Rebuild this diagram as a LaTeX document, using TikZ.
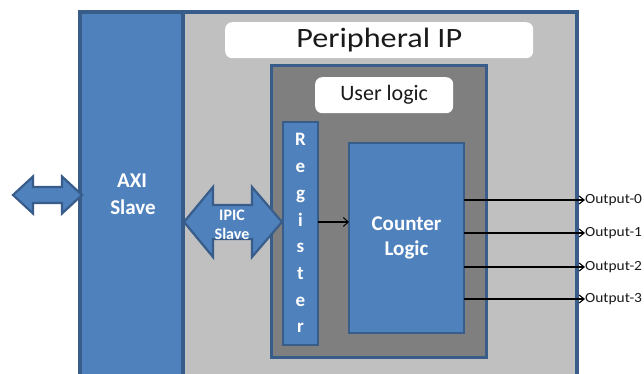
\documentclass[tikz,border=0pt]{standalone}
\usepackage{graphicx}
\usepackage{fontspec}
\setmainfont{Carlito}
\usetikzlibrary{arrows.meta}
\definecolor{blu}{HTML}{4F81BD}
\definecolor{bdr}{HTML}{385D8A}
\definecolor{lgray}{HTML}{C0C0C0}
\definecolor{dgray}{HTML}{7F7F7F}
\definecolor{ink}{HTML}{1A1A1A}
\begin{document}
\begin{tikzpicture}[x=1pt,y=-1pt,
  box/.style={draw=bdr,line width=3.2pt,anchor=north west,inner sep=0pt,outer sep=0pt},
  bluebox/.style={box,fill=blu},
  whitebox/.style={fill=white,rounded corners=7pt,anchor=north west,inner sep=0pt,text=ink},
  bigarrow/.style={fill=blu,draw=bdr,line width=2.2pt,line join=miter},
  wtext/.style={text=white,font=\bfseries,inner sep=0pt},
  reglet/.style={text=white,font=\fontsize{19}{22}\selectfont\bfseries,inner sep=0pt,anchor=base},
  outlbl/.style={anchor=west,inner sep=0pt,font=\fontsize{14}{16}\selectfont,text=ink},
  outline/.style={line width=1.4pt,-{Straight Barb[length=5pt,width=8pt,line width=1.1pt]}},
]
\clip (0,0) rectangle (644,374);
\fill[white] (0,0) rectangle (644,374);

% outer peripheral box
\node[box,fill=lgray,minimum width=497pt,minimum height=400pt] (periph) at (80,12) {};
% AXI slave column
\node[bluebox,minimum width=103pt,minimum height=400pt] (axi) at (80,12) {};
\node[wtext,font=\fontsize{21}{24}\selectfont\bfseries,anchor=base] (axit1) at (132,187) {AXI};
\node[wtext,font=\fontsize{21}{24}\selectfont\bfseries,anchor=base] (axit2) at (133,214) {Slave};

% title
\node[whitebox,minimum width=308pt,minimum height=36pt,font=\fontsize{28}{30}\selectfont] (ptitle) at (225,22) {\scalebox{1.15}[1]{Peripheral IP}};

% user logic
\node[box,fill=dgray,line width=3pt,minimum width=215pt,minimum height=291pt] (ulog) at (271,66) {};
\node[whitebox,minimum width=138pt,minimum height=36pt,font=\fontsize{22}{24}\selectfont] (utitle) at (315,77) {User logic};

% register
\node[bluebox,line width=2.8pt,minimum width=35pt,minimum height=223pt] (reg) at (283,122) {};
\foreach \l [count=\i] in {R,e,g,i,s,t,e,r}
  \node[reglet] (rl\i) at (300.5,{146+26.7*(\i-1)}) {\l};

% counter logic
\node[bluebox,line width=2.8pt,minimum width=115pt,minimum height=190pt] (cnt) at (349,143) {};
\node[wtext,align=center,font=\fontsize{21}{25}\selectfont\bfseries] (cntt) at (cnt.center) {Counter\\Logic};

% left double arrow
\coordinate (busmid) at (47.5,195);
\draw[bigarrow] (13,195) -- (33,176.5) -- (33,187) -- (62,187) -- (62,176.5) -- (82,195)
  -- (62,213.5) -- (62,203) -- (33,203) -- (33,213.5) -- cycle;

% IPIC double arrow
\coordinate (ipicmid) at (233,222);
\draw[bigarrow] (184,222) -- (213,187) -- (213,205) -- (252,205) -- (252,187) -- (282,222)
  -- (252,257) -- (252,239) -- (213,239) -- (213,257) -- cycle;
\node[wtext,font=\fontsize{16}{18}\selectfont\bfseries,anchor=base] (ipt1) at (232,220) {IPIC};
\node[wtext,font=\fontsize{16}{18}\selectfont\bfseries,anchor=base] (ipt2) at (232,239) {Slave};

% register -> counter
\draw[line width=1.2pt,-{Straight Barb[length=5pt,width=9pt,line width=1pt]}] (reg.east |- ipicmid) -- (cnt.west |- ipicmid);

% outputs
\foreach \y [count=\i from 0] in {200,233,267,299} {
  \node[outlbl] (out\i) at (585,\y) {\scalebox{1.1}[1]{Output-\i}};
  \draw[outline] (cnt.east |- out\i.west) -- (out\i.west);
}
\end{tikzpicture}
\end{document}
